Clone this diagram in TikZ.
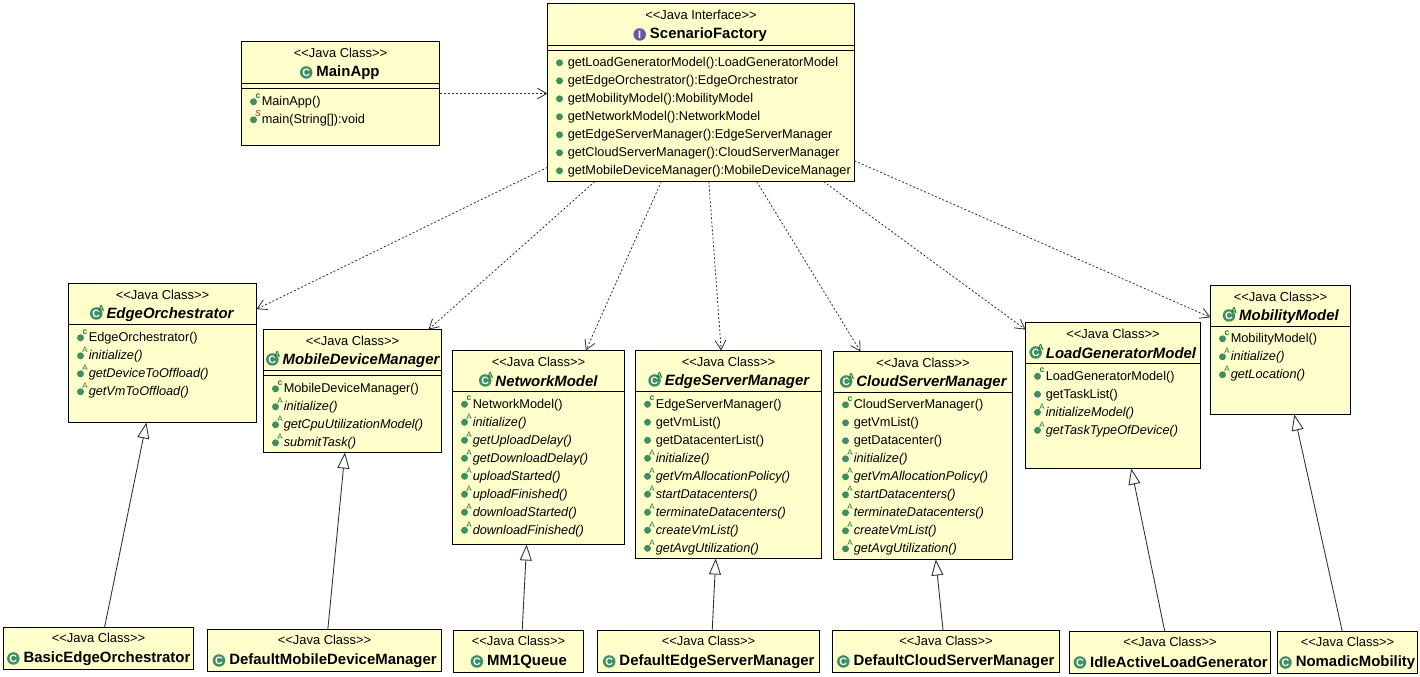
\documentclass[tikz,border=0pt]{standalone}
\usepackage{fontspec}
\setmainfont{Liberation Sans}
\usetikzlibrary{arrows.meta}
\definecolor{umlfill}{HTML}{FFFFCC}
\definecolor{umlgreen}{HTML}{3F8F62}
\definecolor{umlmark}{HTML}{1F7A3A}
\definecolor{umlpurple}{HTML}{6458A8}
\definecolor{umlred}{HTML}{C01040}
\definecolor{umlline}{HTML}{303030}
\tikzset{
  umlbox/.style={draw=black,line width=0.72pt,fill=umlfill,rectangle,inner sep=0pt,outer sep=0pt},
  stereo/.style={inner sep=0pt,font=\fontsize{9.7pt}{10pt}\selectfont},
  titleicon/.style={circle,inner sep=0pt,minimum size=9.4pt,fill=umlgreen,text=white,font=\fontsize{8pt}{8pt}\selectfont\bfseries},
  dotmark/.style={fill=umlgreen},
  memtext/.style={anchor=base west,inner sep=0pt,font=\fontsize{9.55pt}{10pt}\selectfont},
  supmark/.style={inner sep=0pt,font=\fontsize{6.5pt}{6pt}\selectfont\bfseries},
  depend/.style={umlline,line width=0.6pt,dash pattern=on 1.5pt off 1.5pt,-{Straight Barb[length=7pt,width=8pt]}},
  inherit/.style={umlline,line width=0.65pt,-{Triangle[open,fill=white,length=12pt,width=9pt]}},
}
\def\stereody{11.5}
% id x0 y0 x1 y1 stereotype
\newcommand\umlboxat[6]{%
  \pgfmathsetmacro\bw{(#4-#2)*0.75}\pgfmathsetmacro\bh{(#5-#3)*0.75}%
  \pgfmathsetmacro\bx{(#2+#4)/2}\pgfmathsetmacro\by{(#3+#5)/2}%
  \node[umlbox,minimum width=\bw pt,minimum height=\bh pt] (#1) at (\bx,\by) {};
  \pgfmathsetmacro\sy{#3+\stereody}%
  \node[stereo] (#1st) at (\bx,\sy) {#6};
}
\newcommand\umltitle[5]{% id x y kind text
  \node[inner sep=0pt,yshift=-1.1pt,font=\fontsize{11.2pt}{12pt}\selectfont\bfseries\csname titlef#4\endcsname] (#1ti) at (#2,#3) {#5};
  \csname titlei#4\endcsname{#1}
}
\newcommand\titlefc{}\newcommand\titlefa{\itshape}\newcommand\titlefi{}
\newcommand\titleic[1]{\path (#1ti.west) ++(-10,0) node[titleicon] (#1ic) {C};}
\newcommand\titleia[1]{\path (#1ti.west) ++(-10,-1) node[titleicon] (#1ic) {C};
  \path (#1ti.west) ++(-5,-5.5) node[supmark,text=umlmark] (#1ia) {A};}
\newcommand\titleii[1]{\path (#1ti.west) ++(-10,0) node[titleicon,fill=umlpurple] (#1ic) {I};}
\newcommand\umldiv[2]{\draw[black,line width=0.72pt] (#1.west |- 0,#2) -- (#1.east |- 0,#2);}
\newcommand\fontkp{}\newcommand\fontkc{}\newcommand\fontka{\itshape}\newcommand\fontks{}
\newcommand\memmarkp[3]{}
\newcommand\memmarkc[3]{\path (#1.west |- 0,#2) ++(16.5,-5) node[supmark,text=umlmark] (#1s#3) {c};}
\newcommand\memmarka[3]{\path (#1.west |- 0,#2) ++(16.5,-5) node[supmark,text=umlmark,font=\fontsize{6pt}{6pt}\selectfont] (#1s#3) {A};}
\newcommand\memmarks[3]{\path (#1.west |- 0,#2) ++(16.5,-5) node[supmark,text=umlred,font=\fontsize{6.5pt}{6pt}\selectfont\itshape] (#1s#3) {S};}
\newcommand\umlmembers[3]{%
  \foreach \mk/\mt [count=\mi] in {#3} {
    \pgfmathsetmacro\yy{#2+18*(\mi-1)}
    \fill[dotmark] (#1.west |- 0,\yy) ++(12,0.8) circle (3.5);
    \csname memmark\mk\endcsname{#1}{\yy}{\mi}
    \path (#1.west |- 0,\yy) ++(20,4.5) node[memtext] (#1m\mi) {\csname fontk\mk\endcsname\mt};
  }
}
\newcommand\JC{<{}<Java Class>{}>}
\begin{document}
\begin{tikzpicture}[x=0.75pt,y=-0.75pt]
\useasboundingbox (0,0) rectangle (1420,677);
\fill[white] (0,0) rectangle (1420,677);
% ScenarioFactory
\umlboxat{sf}{547.5}{3.5}{854.5}{181.5}{<{}<Java Interface>{}>}
\umltitle{sf}{708.5}{33}{i}{ScenarioFactory}
\umldiv{sf}{45.5}\umldiv{sf}{50.5}
\umlmembers{sf}{62}{p/getLoadGeneratorModel():LoadGeneratorModel,p/getEdgeOrchestrator():EdgeOrchestrator,p/getMobilityModel():MobilityModel,p/getNetworkModel():NetworkModel,p/getEdgeServerManager():EdgeServerManager,p/getCloudServerManager():CloudServerManager,p/getMobileDeviceManager():MobileDeviceManager}
% MainApp
\umlboxat{ma}{241.5}{41.5}{439.5}{145.5}{\JC}
\umltitle{ma}{348}{71}{c}{MainApp}
\umldiv{ma}{83.5}\umldiv{ma}{88.5}
\umlmembers{ma}{101}{c/MainApp(),s/main(String[]):void}
% EdgeOrchestrator
\umlboxat{eo}{68.5}{283.5}{256.5}{422.5}{\JC}
\umltitle{eo}{170}{313}{a}{EdgeOrchestrator}
\umldiv{eo}{324.5}
\umlmembers{eo}{337}{c/EdgeOrchestrator(),a/initialize(),a/getDeviceToOffload(),a/getVmToOffload()}
% MobileDeviceManager
\umlboxat{mdm}{263.5}{329.5}{441.5}{452.5}{\JC}
\umltitle{mdm}{361}{359}{a}{MobileDeviceManager}
\umldiv{mdm}{370.5}\umldiv{mdm}{375.5}
\umlmembers{mdm}{388}{c/MobileDeviceManager(),a/initialize(),a/getCpuUtilizationModel(),a/submitTask()}
% NetworkModel
\umlboxat{nm}{452.5}{350.5}{624.5}{544.5}{\JC}
\umltitle{nm}{546.5}{380}{a}{NetworkModel}
\umldiv{nm}{391.5}
\umlmembers{nm}{403.5}{c/NetworkModel(),a/initialize(),a/getUploadDelay(),a/getDownloadDelay(),a/uploadStarted(),a/uploadFinished(),a/downloadStarted(),a/downloadFinished()}
% EdgeServerManager
\umlboxat{esm}{635.5}{350.5}{821.5}{558.5}{\JC}
\umltitle{esm}{737}{380}{a}{EdgeServerManager}
\umldiv{esm}{391.5}
\umlmembers{esm}{403.5}{c/EdgeServerManager(),p/getVmList(),p/getDatacenterList(),a/initialize(),a/getVmAllocationPolicy(),a/startDatacenters(),a/terminateDatacenters(),a/createVmList(),a/getAvgUtilization()}
% CloudServerManager
\umlboxat{csm}{833.5}{351.5}{1012.5}{559.5}{\JC}
\umltitle{csm}{931.5}{381}{a}{CloudServerManager}
\umldiv{csm}{392.5}
\umlmembers{csm}{404}{c/CloudServerManager(),p/getVmList(),p/getDatacenter(),a/initialize(),a/getVmAllocationPolicy(),a/startDatacenters(),a/terminateDatacenters(),a/createVmList(),a/getAvgUtilization()}
% LoadGeneratorModel
\umlboxat{lg}{1025.5}{322.5}{1200.5}{468.5}{\JC}
\umltitle{lg}{1121}{352}{a}{LoadGeneratorModel}
\umldiv{lg}{363.5}
\umlmembers{lg}{375.5}{c/LoadGeneratorModel(),p/getTaskList(),a/initializeModel(),a/getTaskTypeOfDevice()}
% MobilityModel
\umlboxat{mm}{1210.5}{285.5}{1350.5}{414.5}{\JC}
\umltitle{mm}{1289}{315}{a}{MobilityModel}
\umldiv{mm}{326.5}
\umlmembers{mm}{338}{c/MobilityModel(),a/initialize(),a/getLocation()}
% concrete classes
\def\stereody{10.5}
\umlboxat{beo}{3.5}{627.5}{193.5}{669.5}{\JC}
\umltitle{beo}{107}{657}{c}{BasicEdgeOrchestrator}
\umlboxat{dmdm}{207.5}{629.5}{441.5}{671.5}{\JC}
\umltitle{dmdm}{333}{659}{c}{DefaultMobileDeviceManager}
\umlboxat{mmq}{453.5}{630.5}{583.5}{672.5}{\JC}
\umltitle{mmq}{527}{660}{c}{MM1Queue}
\umlboxat{desm}{597.5}{630.5}{819.5}{672.5}{\JC}
\umltitle{desm}{717}{660}{c}{DefaultEdgeServerManager}
\umlboxat{dcsm}{832.5}{630.5}{1059.5}{672.5}{\JC}
\umltitle{dcsm}{954}{660}{c}{DefaultCloudServerManager}
\umlboxat{ial}{1069.5}{631.5}{1270.5}{673.5}{\JC}
\umltitle{ial}{1179}{661}{c}{IdleActiveLoadGenerator}
\umlboxat{nom}{1277.5}{631.5}{1417.5}{673.5}{\JC}
\umltitle{nom}{1355.5}{661}{c}{NomadicMobility}
% dependencies
\draw[depend] (ma.east) -- (ma.east -| sf.west);
\draw[depend] (sf.206.26) -- (eo.25.89);
\draw[depend] (sf.220.89) -- (mdm.39.81);
\draw[depend] (sf.246.01) -- (nm.64.39);
\draw[depend] (sf.275.47) -- (esm.94.12);
\draw[depend] (sf.302.48) -- (csm.121.47);
\draw[depend] (sf.324.07) -- (lg.143.29);
\draw[depend] (sf.-24.12) -- (mm.155.43);
% generalisations
\draw[inherit] (beo.74.51) -- (eo.257.58);
\draw[inherit] (dmdm.81.77) -- (mdm.263.05);
\draw[inherit] (mmq.80.54) -- (nm.263.82);
\draw[inherit] (desm.80.54) -- (esm.263.96);
\draw[inherit] (dcsm.98.13) -- (csm.277.14);
\draw[inherit] (ial.104.04) -- (lg.284.41);
\draw[inherit] (nom.104.04) -- (mm.282.67);
\end{tikzpicture}
\end{document}
